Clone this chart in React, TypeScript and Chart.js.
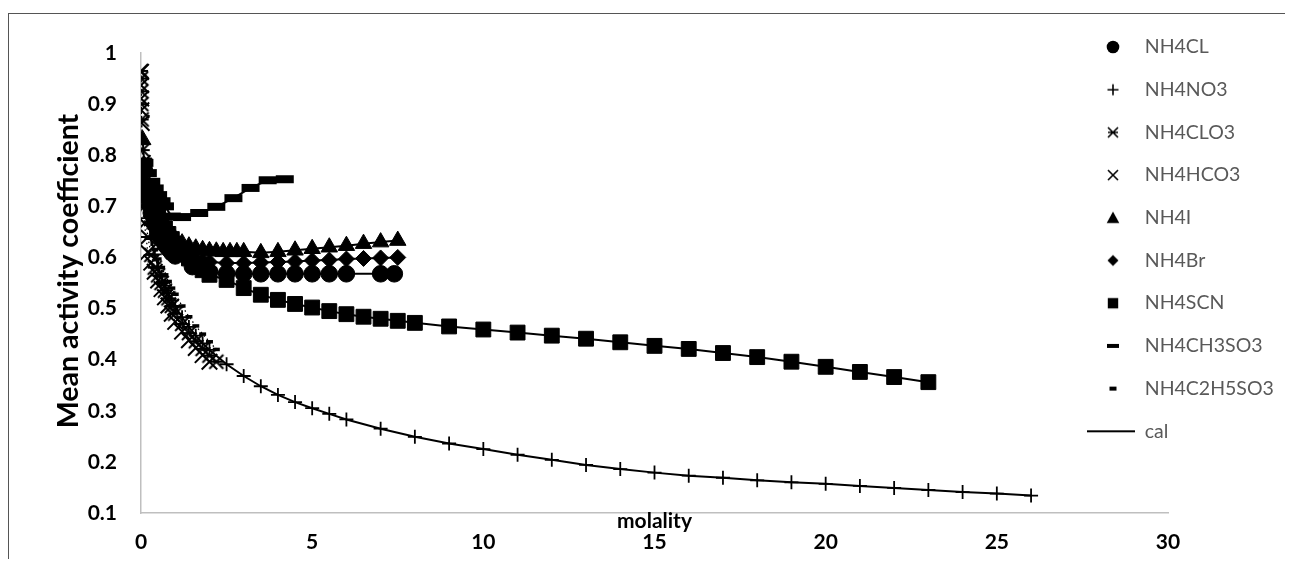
import React, { useEffect, useRef } from 'react';
import { Chart, registerables } from 'chart.js';

Chart.register(...registerables);

// ---------- data (molality, mean activity coefficient) ----------
const NH4CL_M = [0.1, 0.2, 0.3, 0.4, 0.5, 0.6, 0.7, 0.8, 0.9, 1.0, 1.5, 2.0, 2.5, 3.0, 3.5, 4.0, 4.5, 5.0, 5.5, 6.0, 7.0, 7.4];
const NH4CL_G = [0.770, 0.718, 0.687, 0.665, 0.649, 0.636, 0.625, 0.617, 0.609, 0.603, 0.582, 0.572, 0.569, 0.568, 0.568, 0.568, 0.568, 0.568, 0.568, 0.568, 0.568, 0.568];

const NH4NO3_M = [0.1, 0.2, 0.3, 0.4, 0.5, 0.6, 0.7, 0.8, 0.9, 1.0, 1.2, 1.4, 1.6, 1.8, 2.0, 2.5, 3, 3.5, 4, 4.5, 5, 5.5, 6, 7, 8, 9, 10, 11, 12, 13, 14, 15, 16, 17, 18, 19, 20, 21, 22, 23, 24, 25, 26];
const NH4NO3_G = [0.740, 0.677, 0.636, 0.606, 0.582, 0.562, 0.545, 0.530, 0.516, 0.504, 0.483, 0.464, 0.447, 0.432, 0.419, 0.391, 0.368, 0.348, 0.331, 0.317, 0.305, 0.294, 0.283, 0.265, 0.249, 0.236, 0.225, 0.214, 0.204, 0.194, 0.186, 0.179, 0.173, 0.169, 0.164, 0.160, 0.157, 0.153, 0.149, 0.145, 0.141, 0.138, 0.134];

const NH4CLO3_M = [0.001, 0.002, 0.005, 0.01, 0.02, 0.05, 0.1, 0.2, 0.3, 0.4, 0.5, 0.6, 0.7, 0.8, 0.9, 1.0, 1.2, 1.4, 1.6, 1.8, 2.0, 2.2];
const NH4CLO3_G = [0.965, 0.950, 0.925, 0.900, 0.870, 0.810, 0.700, 0.640, 0.605, 0.580, 0.565, 0.550, 0.535, 0.520, 0.505, 0.490, 0.470, 0.452, 0.436, 0.421, 0.408, 0.396];

const NH4HCO3_M = [0.001, 0.002, 0.005, 0.01, 0.02, 0.05, 0.1, 0.2, 0.3, 0.4, 0.5, 0.6, 0.7, 0.8, 0.9, 1.0, 1.2, 1.4, 1.6, 1.8, 2.0];
const NH4HCO3_G = [0.963, 0.937, 0.911, 0.888, 0.863, 0.785, 0.667, 0.610, 0.590, 0.572, 0.555, 0.538, 0.522, 0.506, 0.490, 0.474, 0.455, 0.438, 0.423, 0.409, 0.396];

const NH4I_M = [0.05, 0.1, 0.2, 0.3, 0.4, 0.5, 0.6, 0.7, 0.8, 0.9, 1.0, 1.2, 1.4, 1.6, 1.8, 2.0, 2.2, 2.4, 2.6, 2.8, 3.0, 3.5, 4.0, 4.5, 5.0, 5.5, 6.0, 6.5, 7.0, 7.5];
const NH4I_G = [0.830, 0.780, 0.735, 0.708, 0.690, 0.676, 0.665, 0.656, 0.648, 0.641, 0.636, 0.628, 0.622, 0.618, 0.615, 0.613, 0.612, 0.611, 0.611, 0.611, 0.611, 0.609, 0.611, 0.614, 0.617, 0.620, 0.623, 0.627, 0.630, 0.633];

const NH4BR_M = [0.1, 0.2, 0.3, 0.4, 0.5, 0.6, 0.7, 0.8, 0.9, 1.0, 1.2, 1.4, 1.6, 1.8, 2.0, 2.5, 3.0, 3.5, 4.0, 4.5, 5.0, 5.5, 6.0, 6.5, 7.0, 7.5];
const NH4BR_G = [0.728, 0.700, 0.680, 0.666, 0.654, 0.644, 0.636, 0.629, 0.623, 0.618, 0.609, 0.602, 0.597, 0.593, 0.591, 0.589, 0.589, 0.590, 0.591, 0.592, 0.594, 0.595, 0.597, 0.598, 0.599, 0.600];

const NH4SCN_M = [0.1, 0.2, 0.3, 0.4, 0.5, 0.6, 0.7, 0.8, 0.9, 1.0, 1.2, 1.4, 1.6, 1.8, 2.0, 2.5, 3.0, 3.5, 4.0, 4.5, 5.0, 5.5, 6.0, 6.5, 7.0, 7.5, 8.0, 9, 10, 11, 12, 13, 14, 15, 16, 17, 18, 19, 20, 21, 22, 23];
const NH4SCN_G = [0.780, 0.740, 0.715, 0.697, 0.682, 0.669, 0.657, 0.646, 0.636, 0.627, 0.612, 0.598, 0.586, 0.575, 0.566, 0.556, 0.540, 0.527, 0.517, 0.509, 0.502, 0.495, 0.489, 0.484, 0.480, 0.476, 0.472, 0.465, 0.459, 0.453, 0.447, 0.441, 0.434, 0.427, 0.421, 0.413, 0.405, 0.396, 0.386, 0.376, 0.366, 0.356];

const NH4CH3SO3_M = [0.1, 0.2, 0.3, 0.4, 0.5, 0.6, 0.7, 0.9, 1.2, 1.7, 2.2, 2.7, 3.2, 3.7, 4.2];
const NH4CH3SO3_G = [0.785, 0.765, 0.748, 0.735, 0.722, 0.710, 0.700, 0.680, 0.679, 0.687, 0.699, 0.716, 0.736, 0.751, 0.753];

const NH4C2H5SO3_M = [0.1, 0.2, 0.3, 0.4, 0.5, 0.6, 0.7, 0.8, 0.9, 1.0, 1.2, 1.4, 1.6, 1.8, 2.0, 2.2];
const NH4C2H5SO3_G = [0.700, 0.665, 0.638, 0.615, 0.597, 0.580, 0.566, 0.553, 0.540, 0.528, 0.505, 0.484, 0.466, 0.450, 0.435, 0.420];

const SERIES_NAMES = ['NH4CL', 'NH4NO3', 'NH4CLO3', 'NH4HCO3', 'NH4I', 'NH4Br', 'NH4SCN', 'NH4CH3SO3', 'NH4C2H5SO3'];
const CAL_NAME = 'cal';
const X_TITLE = 'molality';
const Y_TITLE = 'Mean activity coefficient';
const X_MIN = 0, X_MAX = 30, X_STEP = 5;
const Y_MIN = 0.1, Y_MAX = 1, Y_STEP = 0.1;

// ---------- canvas size ----------
const CW = 1285;
const CH = 551;

function pts(m: number[], g: number[]) {
  return m.map((x, i) => ({ x, y: g[i] }));
}

function makeCanvas(w: number, h: number) {
  const c = document.createElement('canvas');
  c.width = w;
  c.height = h;
  return c;
}

function drawGlyph(ctx: CanvasRenderingContext2D, kind: string, cx: number, cy: number, s: number, lw = 1.6) {
  ctx.fillStyle = '#000';
  ctx.strokeStyle = '#000';
  ctx.lineCap = 'butt';
  ctx.beginPath();
  switch (kind) {
    case 'circle':
      ctx.arc(cx, cy, s, 0, Math.PI * 2);
      ctx.fill();
      break;
    case 'plus':
      ctx.lineWidth = lw;
      ctx.moveTo(cx - s, cy); ctx.lineTo(cx + s, cy);
      ctx.moveTo(cx, cy - s); ctx.lineTo(cx, cy + s);
      ctx.stroke();
      break;
    case 'star':
      ctx.lineWidth = lw;
      ctx.moveTo(cx - s, cy - s); ctx.lineTo(cx + s, cy + s);
      ctx.moveTo(cx - s, cy + s); ctx.lineTo(cx + s, cy - s);
      ctx.moveTo(cx - s, cy); ctx.lineTo(cx + s, cy);
      ctx.stroke();
      break;
    case 'x':
      ctx.lineWidth = lw;
      ctx.moveTo(cx - s, cy - s); ctx.lineTo(cx + s, cy + s);
      ctx.moveTo(cx - s, cy + s); ctx.lineTo(cx + s, cy - s);
      ctx.stroke();
      break;
    case 'triangle':
      ctx.moveTo(cx, cy - s);
      ctx.lineTo(cx + s, cy + s * 0.85);
      ctx.lineTo(cx - s, cy + s * 0.85);
      ctx.closePath();
      ctx.fill();
      break;
    case 'diamond':
      ctx.moveTo(cx, cy - s); ctx.lineTo(cx + s, cy); ctx.lineTo(cx, cy + s); ctx.lineTo(cx - s, cy);
      ctx.closePath();
      ctx.fill();
      break;
    case 'square':
      ctx.rect(cx - s, cy - s, 2 * s, 2 * s);
      ctx.fill();
      break;
    case 'dash':
      ctx.rect(cx - s, cy - 2, 2 * s, 4);
      ctx.fill();
      break;
  }
}

const LEGEND_GLYPHS: [string, number][] = [
  ['circle', 6.3], ['plus', 5.5], ['star', 5], ['x', 5], ['triangle', 6.3],
  ['diamond', 5.5], ['square', 5.2], ['dash', 6], ['dash', 3.5],
];

export default function App() {
  const ref = useRef<HTMLCanvasElement | null>(null);

  useEffect(() => {
    document.documentElement.style.overflow = 'hidden';
    document.body.style.overflow = 'hidden';
    const canvas = ref.current;
    if (!canvas) return;

    // data-point image for the asterisk marker
    const starImg = makeCanvas(20, 20);
    drawGlyph(starImg.getContext('2d')!, 'star', 10, 10, 7, 2);

    // legend icons
    const ICON_W = 50, ICON_H = 20, ICON_CX = 28;
    const legendIcons = LEGEND_GLYPHS.map(([k, s]) => {
      const c = makeCanvas(ICON_W, ICON_H);
      drawGlyph(c.getContext('2d')!, k, ICON_CX, ICON_H / 2, s);
      return c;
    });
    const calIcon = makeCanvas(ICON_W, ICON_H);
    {
      const cx = calIcon.getContext('2d')!;
      cx.strokeStyle = '#000';
      cx.lineWidth = 2;
      cx.beginPath();
      cx.moveTo(2, ICON_H / 2);
      cx.lineTo(ICON_W, ICON_H / 2);
      cx.stroke();
    }

    const base = {
      showLine: true,
      borderColor: '#000',
      borderWidth: 2,
      pointBackgroundColor: '#000',
      pointBorderColor: '#000',
      fill: false,
    };

    const datasets: any[] = [
      { ...base, label: SERIES_NAMES[0], data: pts(NH4CL_M, NH4CL_G), pointStyle: 'circle', pointRadius: 8.3, pointBorderWidth: 1 },
      { ...base, label: SERIES_NAMES[1], data: pts(NH4NO3_M, NH4NO3_G), pointStyle: 'cross', pointRadius: 7, pointBorderWidth: 1.8 },
      { ...base, label: SERIES_NAMES[2], data: pts(NH4CLO3_M, NH4CLO3_G), pointStyle: starImg, pointRadius: 9, borderWidth: 1.3, borderDash: [1.5, 3] },
      { ...base, label: SERIES_NAMES[3], data: pts(NH4HCO3_M, NH4HCO3_G), pointStyle: 'crossRot', pointRadius: 11, pointBorderWidth: 2, borderWidth: 1.3, borderDash: [1.5, 3] },
      { ...base, label: SERIES_NAMES[4], data: pts(NH4I_M, NH4I_G), pointStyle: 'triangle', pointRadius: 9.5, pointBorderWidth: 1 },
      { ...base, label: SERIES_NAMES[5], data: pts(NH4BR_M, NH4BR_G), pointStyle: 'rectRot', pointRadius: 8, pointBorderWidth: 1 },
      { ...base, label: SERIES_NAMES[6], data: pts(NH4SCN_M, NH4SCN_G), pointStyle: 'rect', pointRadius: 10.5, pointBorderWidth: 1 },
      { ...base, label: SERIES_NAMES[7], data: pts(NH4CH3SO3_M, NH4CH3SO3_G), pointStyle: 'line', pointRadius: 9, pointBorderWidth: 8 },
      { ...base, label: SERIES_NAMES[8], data: pts(NH4C2H5SO3_M, NH4C2H5SO3_G), pointStyle: 'line', pointRadius: 3.5, pointBorderWidth: 3.5, borderWidth: 1.3, borderDash: [1.5, 3] },
    ];

    const LEG_X = 1085 - 8; // canvas coords of first legend icon left
    const LEG_Y0 = 47 - 8;  // centre of first legend row
    const LEG_FONT = 19.5;
    const LEG_PAD = 42.7 - LEG_FONT;

    const legendPlacer = {
      id: 'legendPlacer',
      afterLayout(chart: any) {
        const lg = chart.legend;
        if (!lg) return;
        lg.left = LEG_X - LEG_PAD;
        lg.right = CW;
        lg.top = LEG_Y0 - LEG_FONT / 2 - LEG_PAD;
        lg.bottom = CH;
        lg.width = lg.right - lg.left;
        lg.height = lg.bottom - lg.top;
      },
    };

    const titlesPlugin = {
      id: 'titlesPlugin',
      afterDraw(chart: any) {
        const { ctx, chartArea } = chart;
        ctx.save();
        ctx.fillStyle = '#000';
        ctx.textAlign = 'center';
        ctx.textBaseline = 'middle';
        ctx.font = 'bold 21px Lato';
        // x-axis title sits between the axis line and the tick labels
        ctx.fillText(X_TITLE, (chartArea.left + chartArea.right) / 2, chartArea.bottom + 8);
        ctx.translate(61, 263);
        ctx.rotate(-Math.PI / 2);
        ctx.font = 'bold 28.5px Lato';
        ctx.fillText(Y_TITLE, 0, 0);
        ctx.restore();
      },
    };

    const tickFont = { family: 'Lato', size: 21, weight: 'bold' };

    const chart = new Chart(canvas, {
      type: 'scatter',
      data: { datasets },
      options: {
        animation: false,
        responsive: false,
        devicePixelRatio: 1,
        layout: { padding: { left: 0, right: 124, top: 45, bottom: 0 } },
        plugins: {
          tooltip: { enabled: false },
          legend: {
            position: 'right',
            align: 'start',
            maxWidth: 1,
            labels: {
              usePointStyle: true,
              pointStyleWidth: ICON_W,
              boxWidth: ICON_W,
              boxHeight: LEG_FONT,
              padding: LEG_PAD,
              color: '#595959',
              font: { family: 'Lato', size: LEG_FONT },
              generateLabels: () => {
                const items: any[] = SERIES_NAMES.map((name, i) => ({
                  text: name,
                  fillStyle: '#000',
                  strokeStyle: '#000',
                  lineWidth: 0,
                  hidden: false,
                  pointStyle: legendIcons[i],
                  datasetIndex: i,
                  fontColor: '#595959',
                }));
                items.push({
                  text: CAL_NAME,
                  fillStyle: '#000',
                  strokeStyle: '#000',
                  lineWidth: 0,
                  hidden: false,
                  pointStyle: calIcon,
                  fontColor: '#595959',
                });
                return items;
              },
            },
          },
        },
        scales: {
          x: {
            type: 'linear',
            min: X_MIN,
            max: X_MAX,
            afterFit: (s: any) => { s.height = 46; },
            ticks: { stepSize: X_STEP, padding: 17, color: '#000', font: tickFont },
            grid: { display: false, drawTicks: false },
            border: { display: true, color: '#bfbfbf', width: 1.5 },
            title: { display: false },
          },
          y: {
            type: 'linear',
            min: Y_MIN,
            max: Y_MAX,
            afterFit: (s: any) => { s.width = 133; },
            ticks: {
              stepSize: Y_STEP,
              padding: 24,
              color: '#000',
              font: tickFont,
              callback: (v: any) => String(Math.round(Number(v) * 10) / 10),
            },
            grid: { display: false, drawTicks: false },
            border: { display: true, color: '#bfbfbf', width: 1.5 },
            title: { display: false },
          },
        },
      },
      plugins: [legendPlacer, titlesPlugin],
    } as any);

    return () => chart.destroy();
  }, []);

  return (
    <div style={{ position: 'relative', width: CW, height: CH, overflow: 'hidden' }}>
      <div
        style={{
          position: 'absolute',
          left: 0,
          top: 5,
          width: 1400,
          height: 800,
          border: '1px solid #555',
          boxSizing: 'border-box',
        }}
      />
      <canvas
        ref={ref}
        width={CW}
        height={CH}
        style={{ position: 'absolute', left: 0, top: 0, width: CW, height: CH }}
      />
    </div>
  );
}
